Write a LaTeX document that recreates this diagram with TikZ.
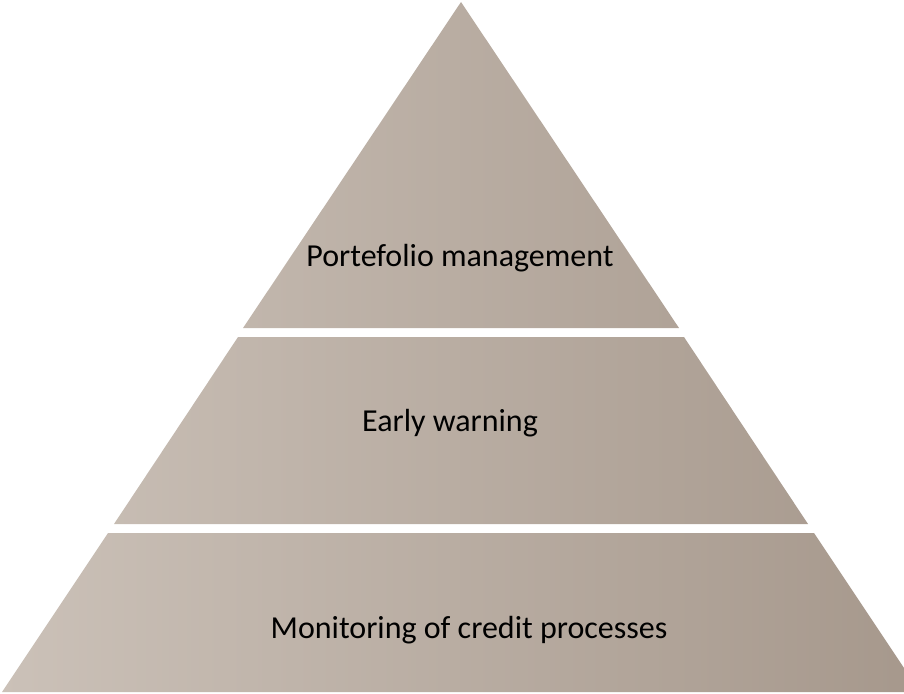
\documentclass[tikz,border=0pt]{standalone}
\usepackage{fontspec}
\setmainfont{Carlito}
\definecolor{pleft}{RGB}{203,193,184}
\definecolor{pright}{RGB}{166,152,140}
\tikzset{lbl/.style={inner sep=0pt, font=\fontsize{32}{38}\selectfont, text=black}}
\begin{document}
\begin{tikzpicture}[x=1pt,y=-1pt]
\useasboundingbox (0,0) rectangle (904,693);
\begin{scope}
\clip (0,0) rectangle (904,693);
\clip (461,2) -- (679,328) -- (243,328) -- cycle
      (238,337) -- (684,337) -- (808,524) -- (114,524) -- cycle
      (108,533) -- (814,533) -- (920,692) -- (2,692) -- cycle;
\shade[left color=pleft, right color=pright] (0,0) rectangle (920,693);
\end{scope}
\node[lbl] (top) at (460,258) {Portefolio management};
\node[lbl] (mid) at (450,423) {Early warning};
\node[lbl] (bot) at (469,630) {Monitoring of credit processes};
\end{tikzpicture}
\end{document}
